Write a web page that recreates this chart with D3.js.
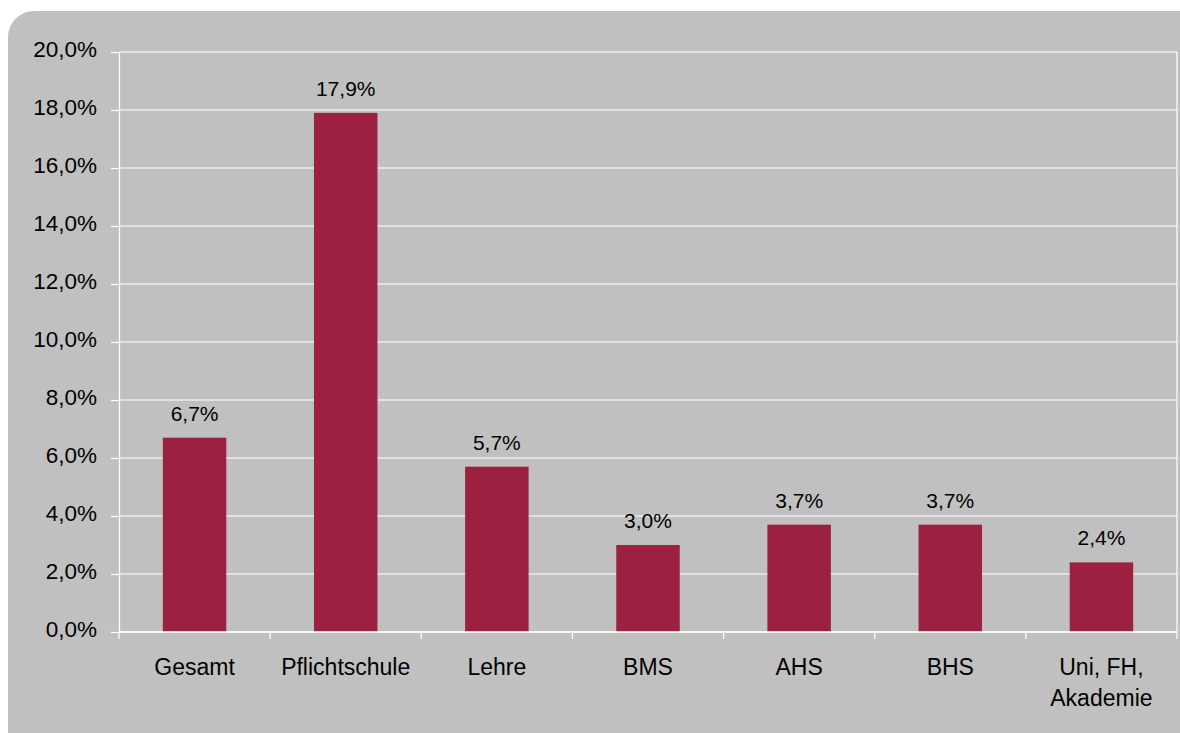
<!DOCTYPE html>
<html><head><meta charset="utf-8">
<script src="https://cdn.jsdelivr.net/npm/d3@7"></script>
<style>body{margin:0;background:#fff}svg{display:block}</style>
</head><body>
<script>
const categories = ["Gesamt","Pflichtschule","Lehre","BMS","AHS","BHS","Uni, FH,\nAkademie"];
const values = [6.7, 17.9, 5.7, 3.0, 3.7, 3.7, 2.4];
const yTicks = [0,2,4,6,8,10,12,14,16,18,20];
const fmt = v => v.toFixed(1).replace(".", ",") + "%";

const W = 1180, H = 733;
const FONT = "Liberation Sans, Arial, sans-serif";
const svg = d3.select("body").append("svg").attr("width", W).attr("height", H)
  .style("font-family", FONT);

svg.append("rect").attr("x", 8).attr("y", 11).attr("width", 1200).attr("height", 750)
  .attr("rx", 26).attr("fill", "#c0c0c0");

const L = 119, R = 1177, T = 52, B = 632;
const x = d3.scaleBand().domain(categories).range([L, R]).paddingInner(0.58).paddingOuter(0.29);
const y = d3.scaleLinear().domain([0, 20]).range([B, T]);

// gridlines
svg.append("g").selectAll("line").data(yTicks).join("line")
  .attr("x1", L).attr("x2", R).attr("y1", d => y(d)).attr("y2", d => y(d))
  .attr("stroke", "#fff").attr("stroke-width", 1.2);
// right border
svg.append("line").attr("x1", R).attr("x2", R).attr("y1", T).attr("y2", B)
  .attr("stroke", "#fff").attr("stroke-width", 1.2);

// bars
svg.append("g").selectAll("rect").data(values).join("rect")
  .attr("x", (d, i) => x(categories[i])).attr("width", x.bandwidth())
  .attr("y", d => y(d)).attr("height", d => B - y(d))
  .attr("fill", "#9c2141");

// value labels
svg.append("g").selectAll("text").data(values).join("text")
  .attr("x", (d, i) => x(categories[i]) + x.bandwidth() / 2)
  .attr("y", d => y(d) - 17)
  .attr("text-anchor", "middle").attr("font-size", 21).attr("fill", "#000")
  .text(d => fmt(d));

// y axis
const yAxis = d3.axisLeft(y).tickValues(yTicks).tickFormat(fmt).tickSize(8).tickPadding(14);
const gy = svg.append("g").attr("transform", `translate(${L},0)`).call(yAxis);
gy.attr("font-family", FONT).attr("font-size", 22.5);
gy.select(".domain").attr("stroke", "#fff").attr("stroke-width", 1.2);
gy.selectAll(".tick line").attr("stroke", "#fff").attr("stroke-width", 1.2);
gy.selectAll(".tick text").attr("font-size", 22.5).attr("fill", "#000").attr("dy", "0.22em");

// x axis
svg.append("line").attr("x1", L).attr("x2", R).attr("y1", B).attr("y2", B)
  .attr("stroke", "#fff").attr("stroke-width", 1.5);
const bounds = d3.range(categories.length + 1).map(i => L + (R - L) * i / categories.length);
svg.append("g").selectAll("line").data(bounds).join("line")
  .attr("x1", d => d).attr("x2", d => d).attr("y1", B).attr("y2", B + 7)
  .attr("stroke", "#fff").attr("stroke-width", 1.2);

const xl = svg.append("g").selectAll("text").data(categories).join("text")
  .attr("x", d => x(d) + x.bandwidth() / 2).attr("y", 675)
  .attr("text-anchor", "middle").attr("font-size", 23).attr("fill", "#000");
xl.each(function(d) {
  const lines = d.split("\n");
  const t = d3.select(this);
  lines.forEach((ln, i) => {
    t.append("tspan").attr("x", t.attr("x")).attr("dy", i === 0 ? 0 : 31).text(ln);
  });
});
</script>
</body></html>
